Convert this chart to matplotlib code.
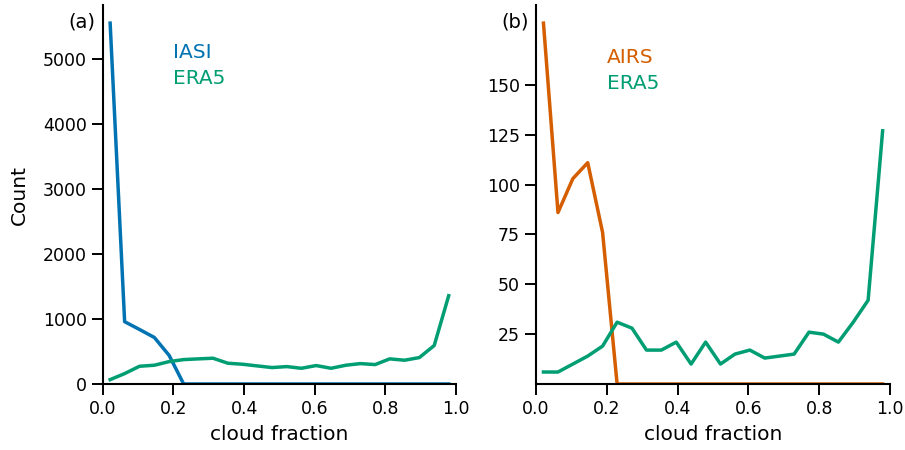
import numpy as np
import matplotlib
matplotlib.use("Agg")
import matplotlib.pyplot as plt

# bin centres of cloud fraction (24 bins)
cloud_fraction = [0.021, 0.062, 0.104, 0.146, 0.188, 0.229, 0.271, 0.312,
                  0.354, 0.396, 0.438, 0.479, 0.521, 0.562, 0.604, 0.646,
                  0.688, 0.729, 0.771, 0.812, 0.854, 0.896, 0.938, 0.979]

iasi = [5560, 960, 840, 717, 440, 0, 0, 0, 0, 0, 0, 0,
        0, 0, 0, 0, 0, 0, 0, 0, 0, 0, 0, 0]
era5_iasi = [67, 160, 273, 289, 345, 376, 387, 397, 320, 304, 278, 253,
             268, 242, 284, 242, 289, 314, 299, 387, 366, 407, 593, 1360]

airs = [181, 86, 103, 111, 76, 0, 0, 0, 0, 0, 0, 0,
        0, 0, 0, 0, 0, 0, 0, 0, 0, 0, 0, 0]
era5_airs = [6, 6, 10, 14, 19, 31, 28, 17, 17, 21, 10, 21,
             10, 15, 17, 13, 14, 15, 26, 25, 21, 31, 42, 127]

blue = '#0173b2'
green = '#029e73'
orange = '#d55e00'

fig = plt.figure(figsize=(9.05, 4.5), dpi=100)
ax1 = fig.add_axes([0.1135, 0.1467, 0.3905, 0.842])
ax2 = fig.add_axes([0.5923, 0.1467, 0.3912, 0.842])

def style(ax):
    ax.spines['top'].set_visible(False)
    ax.spines['right'].set_visible(False)
    for s in ['left', 'bottom']:
        ax.spines[s].set_linewidth(1.5)
    ax.tick_params(width=1.4, length=8, labelsize=12.5)
    ax.set_xlim(0, 1)
    ax.set_xticks([0.0, 0.2, 0.4, 0.6, 0.8, 1.0])
    ax.set_xlabel('cloud fraction', fontsize=14.5, labelpad=5)

ax1.plot(cloud_fraction, iasi, color=blue, lw=2.5)
ax1.plot(cloud_fraction, era5_iasi, color=green, lw=2.5)
ax1.set_ylim(bottom=0)
ax1.set_yticks([0, 1000, 2000, 3000, 4000, 5000])
ax1.set_ylabel('Count', fontsize=14.5, labelpad=10)
style(ax1)
ax1.text(0.2, 0.875, 'IASI', color=blue, fontsize=14.5, transform=ax1.transAxes, va='center')
ax1.text(0.2, 0.806, 'ERA5', color=green, fontsize=14.5, transform=ax1.transAxes, va='center')
ax1.text(-0.02, 0.955, '(a)', fontsize=14, transform=ax1.transAxes, ha='right', va='center')

ax2.plot(cloud_fraction, airs, color=orange, lw=2.5)
ax2.plot(cloud_fraction, era5_airs, color=green, lw=2.5)
ax2.set_ylim(bottom=0)
ax2.set_yticks([25, 50, 75, 100, 125, 150])
style(ax2)
ax2.text(0.2, 0.862, 'AIRS', color=orange, fontsize=14.5, transform=ax2.transAxes, va='center')
ax2.text(0.2, 0.793, 'ERA5', color=green, fontsize=14.5, transform=ax2.transAxes, va='center')
ax2.text(-0.02, 0.955, '(b)', fontsize=14, transform=ax2.transAxes, ha='right', va='center')

fig.savefig('out.png', dpi=100)
